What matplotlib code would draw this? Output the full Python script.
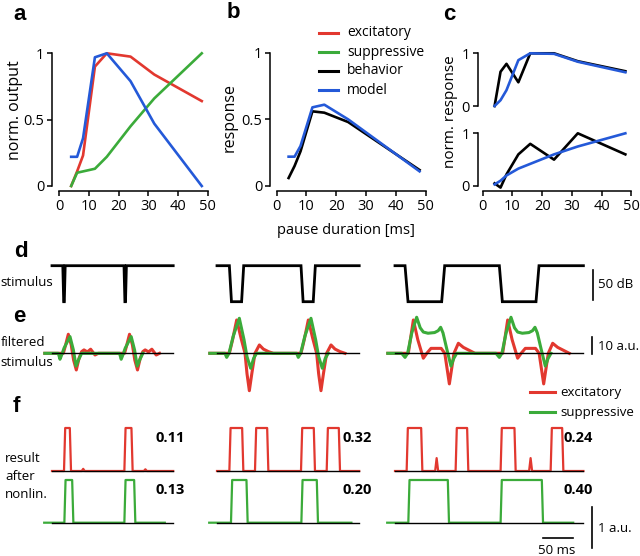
import matplotlib
matplotlib.use("Agg")
import matplotlib.pyplot as plt
from matplotlib.lines import Line2D

plt.rcParams['font.family'] = ['Open Sans', 'DejaVu Sans']

# ---------------- data: panels a-c ----------------
pause_ms = [4, 6, 8, 12, 16, 24, 32, 48]
a_excitatory = [0.0, 0.11, 0.23, 0.90, 1.0, 0.975, 0.84, 0.64]
a_suppressive = [0.0, 0.10, 0.11, 0.13, 0.22, 0.45, 0.66, 1.0]
a_model = [0.22, 0.22, 0.36, 0.97, 1.0, 0.79, 0.47, 0.0]

b_behavior = [0.06, 0.15, 0.26, 0.56, 0.55, 0.48, 0.36, 0.12]
b_model = [0.22, 0.22, 0.30, 0.59, 0.61, 0.50, 0.37, 0.11]

c_top_behavior = [0.0, 0.65, 0.80, 0.45, 1.0, 1.0, 0.85, 0.66]
c_top_model = [0.0, 0.11, 0.30, 0.87, 1.0, 0.99, 0.84, 0.64]
c_bot_behavior = [0.05, -0.03, 0.22, 0.60, 0.80, 0.50, 1.0, 0.60]
c_bot_model = [0.03, 0.10, 0.20, 0.33, 0.42, 0.60, 0.75, 1.0]

# ---------------- data: panels d-f (times in ms, per example column) ----------------
stim_end = [202, 237, 314]
pause_on = [[18, 120], [20.6, 140], [16.7, 173.9]]
pause_dur = [2.5, 20.4, 61.1]
stim_ramp = [1.5, 3.5, 5]
stim_high_db = 60
stim_low_db = 0

# filtered stimulus, first burst (second burst repeats after the next pause)
e_red_t = [
    [18.9, 22, 27.2, 32, 36, 40.5, 45, 49.4, 53.3, 58.9, 64.4, 71.7, 77.2],
    [20.6, 26, 32.8, 40, 46.7, 50, 53.9, 58, 63.3, 70.6, 77.2, 85.6, 93.9],
    [22.2, 30.6, 38, 47.2, 53, 60, 77, 83, 90.6, 98.3, 105.6, 113.9, 122.2, 133.3],
]
e_red_v = [
    [0, 4, 11.2, 5, -4, -9.8, -3, 1, 2, 0.8, 2.4, -1, 0],
    [0, 8, 19.6, 9, 0, -12, -22, -12, 0, 4.9, 2.5, 1, 0],
    [0, 19.6, 8, -2.9, 0, 2.9, 2.9, 0, -18, 0, 5.9, 3.5, 2, 0],
]
e_green_t = [
    [10.6, 13.3, 16.1, 20, 30, 35.6, 40, 44, 49.4],
    [13.3, 16.1, 20, 27, 37.2, 45, 50, 56.1, 61, 66],
    [11.1, 16.7, 21, 28, 36.1, 42, 47.2, 55, 66, 72, 76.1, 80, 86, 93.3, 98, 102.8],
]
e_green_v = [
    [0, -3.5, -1, 3, 9.8, 2, -7.5, -4, 0],
    [0, -2.4, 0, 10, 20.6, 8, -2, -8.8, -3, 0],
    [0, -2.4, 0, 12, 21.2, 15, 12.5, 11.8, 12.2, 13.3, 15.3, 12, 3, -7.5, -3, 0],
]

# result after nonlinearity: pulses (start, end) and small spikes (time, height)
f_red_pulses = [
    [(20, 31.7), (120.6, 134.4)],
    [(20.6, 43.9), (63.3, 85.6), (140, 163.3), (182.8, 205)],
    [(19.4, 45.6), (101, 122.2), (176, 201.1), (259.4, 280.6)],
]
f_red_spikes = [[(52, 0.05), (155.6, 0.04)], [], [(69.4, 0.3), (226, 0.3)]]
f_green_pulses = [
    [(20.6, 35.6), (120.6, 138.9)],
    [(23.3, 51.1), (140.6, 168.3)],
    [(22.2, 90), (176, 246.7)],
]
f_green_end = [188, 224, 297]
f_red_values = ["0.11", "0.32", "0.24"]
f_green_values = ["0.13", "0.20", "0.40"]

RED = '#e2382f'
GREEN = '#3bab3a'
BLUE = '#2459d8'

W, H = 640, 556
fig = plt.figure(figsize=(6.4, 5.56), dpi=100)


def px_axes(x0, y0, x1, y1):
    ax = fig.add_axes([x0 / W, 1 - y1 / H, (x1 - x0) / W, (y1 - y0) / H])
    ax.patch.set_visible(False)
    return ax


def ftext(x, y, s, **kw):
    return fig.text(x / W, 1 - y / H, s, **kw)


def style(ax, yticks, ylabels, xaxis=True, left_px=7, bottom_px=5.5):
    for s in ['top', 'right']:
        ax.spines[s].set_visible(False)
    ax.spines['left'].set_position(('outward', left_px * 0.72))
    ax.spines['left'].set_bounds(yticks[0], yticks[-1])
    ax.spines['left'].set_linewidth(1.1)
    ax.set_yticks(yticks)
    ax.set_yticklabels(ylabels)
    ax.set_xlim(0, 50)
    if xaxis:
        ax.spines['bottom'].set_position(('outward', bottom_px * 0.72))
        ax.spines['bottom'].set_bounds(0, 50)
        ax.spines['bottom'].set_linewidth(1.1)
        ax.set_xticks([0, 10, 20, 30, 40, 50])
    else:
        ax.spines['bottom'].set_visible(False)
        ax.set_xticks([])
    ax.tick_params(length=3.6, width=1.1, labelsize=10.5, pad=2)


LW = 1.9

# panel a
ax_a = px_axes(59.3, 53.3, 207.7, 186)
ax_a.plot(pause_ms, a_excitatory, color=RED, lw=LW, clip_on=False)
ax_a.plot(pause_ms, a_suppressive, color=GREEN, lw=LW, clip_on=False)
ax_a.plot(pause_ms, a_model, color=BLUE, lw=LW, clip_on=False)
ax_a.set_ylim(0, 1)
style(ax_a, [0, 0.5, 1], ['0', '0.5', '1'])

# panel b
ax_b = px_axes(276.7, 52.7, 425.5, 186)
ax_b.plot(pause_ms, b_behavior, color='black', lw=LW, clip_on=False)
ax_b.plot(pause_ms, b_model, color=BLUE, lw=LW, clip_on=False)
ax_b.set_ylim(0, 1)
style(ax_b, [0, 0.5, 1], ['0', '0.5', '1'], left_px=6.7)

# panel c
ax_c1 = px_axes(482.7, 53.3, 631.3, 106)
ax_c1.plot(pause_ms, c_top_behavior, color='black', lw=LW, clip_on=False)
ax_c1.plot(pause_ms, c_top_model, color=BLUE, lw=LW, clip_on=False)
ax_c1.set_ylim(0, 1)
style(ax_c1, [0, 1], ['0', '1'], xaxis=False, left_px=5)

ax_c2 = px_axes(482.7, 133.3, 631.3, 186)
ax_c2.plot(pause_ms, c_bot_behavior, color='black', lw=LW, clip_on=False)
ax_c2.plot(pause_ms, c_bot_model, color=BLUE, lw=LW, clip_on=False)
ax_c2.set_ylim(0, 1)
style(ax_c2, [0, 1], ['0', '1'], left_px=5)

ftext(15, 110, "norm. output", rotation=90, ha='center', va='center', fontsize=11.5)
ftext(230, 118, "response", rotation=90, ha='center', va='center', fontsize=11.5)
ftext(450, 112, "norm. response", rotation=90, ha='center', va='center', fontsize=11)
ftext(346, 230, "pause duration [ms]", ha='center', va='center', fontsize=10.5)

# legend of panel b
for i, (lab, col) in enumerate([("excitatory", RED), ("suppressive", GREEN),
                                 ("behavior", 'black'), ("model", BLUE)]):
    y = 33 + 19 * i
    fig.add_artist(Line2D([319 / W, 338 / W], [1 - y / H, 1 - y / H], color=col, lw=2.2))
    ftext(347, y, lab, ha='left', va='center', fontsize=10)

# ---------------- panels d-f ----------------
col_x0 = [52, 217, 395]
PX_PER_MS = 0.6
T0, T1 = -20, 345


def col_axes(c, y_top, y_bot, ylim):
    ax = px_axes(col_x0[c] + T0 * PX_PER_MS, y_top, col_x0[c] + T1 * PX_PER_MS, y_bot)
    ax.set_xlim(T0, T1)
    ax.set_ylim(*ylim)
    ax.axis('off')
    return ax


def burst_trace(c, bt, bv, start):
    period = pause_on[c][1] - pause_on[c][0]
    t = [start] + bt + [x + period for x in bt]
    v = [0] + bv + bv
    return t, v


def pulse_trace(pulses, spikes, start, end, ramp=2.0):
    pts = [(start, 0), (end, 0)]
    for a, b in pulses:
        pts += [(a, 0), (a + ramp, 1), (b - ramp, 1), (b, 0)]
    for s, h in spikes:
        pts += [(s - 2.5, 0), (s, h), (s + 2.5, 0)]
    pts.sort()
    return [p[0] for p in pts], [p[1] for p in pts]


for c in range(3):
    # d: stimulus
    ax = col_axes(c, 265.7, 301.7, (stim_low_db, stim_high_db))
    t = [0]
    y = [stim_high_db]
    r = stim_ramp[c]
    for on in pause_on[c]:
        t += [on, on + r, on + pause_dur[c], on + pause_dur[c] + r]
        y += [stim_high_db, stim_low_db, stim_low_db, stim_high_db]
    t.append(stim_end[c])
    y.append(stim_high_db)
    ax.plot(t, y, color='black', lw=2.0, clip_on=False, solid_joinstyle='miter')
    if c == 2:
        ax.plot([330, 330], [2.8, 52.8], color='black', lw=1.2, clip_on=False)

    # e: filtered stimulus
    ax = col_axes(c, 310.8, 395.8, (-25, 25))
    tr, vr = burst_trace(c, e_red_t[c], e_red_v[c], -12)
    tg, vg = burst_trace(c, e_green_t[c], e_green_v[c], -12)
    ax.plot(tr, vr, color=RED, lw=2.2, clip_on=False)
    ax.plot(tg, vg, color=GREEN, lw=2.2, clip_on=False)
    ax.plot([0, stim_end[c]], [0, 0], color='black', lw=1.0, clip_on=False)
    if c == 2:
        ax.plot([327.8, 327.8], [-0.4, 9.6], color='black', lw=1.2, clip_on=False)

    # f: result after nonlinearity
    ax = col_axes(c, 428, 471, (0, 1))
    t, v = pulse_trace(f_red_pulses[c], f_red_spikes[c], 0, stim_end[c])
    ax.plot(t, v, color=RED, lw=1.6, clip_on=False)
    ax.plot([0, stim_end[c]], [0, 0], color='black', lw=1.0, clip_on=False)

    ax = col_axes(c, 480, 522.7, (0, 1))
    t, v = pulse_trace(f_green_pulses[c], [], -13, f_green_end[c])
    ax.plot(t, v, color=GREEN, lw=1.6, clip_on=False)
    ax.plot([0, stim_end[c]], [0, 0], color='black', lw=1.0, clip_on=False)
    if c == 2:
        ax.plot([327.8, 327.8], [-0.6, 0.375], color='black', lw=1.2, clip_on=False)
        ax.plot([246.7, 296.7], [-0.365, -0.365], color='black', lw=1.2, clip_on=False)

value_x = [170, 357, 578]
for c in range(3):
    ftext(value_x[c], 437.5, f_red_values[c], ha='center', va='center',
          fontsize=10.5, fontweight='bold')
    ftext(value_x[c], 490, f_green_values[c], ha='center', va='center',
          fontsize=10.5, fontweight='bold')

# scale bar labels
ftext(598, 285, "50 dB", ha='left', va='center', fontsize=9.5)
ftext(598, 346, "10 a.u.", ha='left', va='center', fontsize=9.5)
ftext(598, 528, "1 a.u.", ha='left', va='center', fontsize=9.5)
ftext(557, 550, "50 ms", ha='center', va='center', fontsize=9.5)

# legend of panels e/f
for y, lab, col in [(392.3, "excitatory", RED), (412.3, "suppressive", GREEN)]:
    fig.add_artist(Line2D([530 / W, 555 / W], [1 - y / H, 1 - y / H], color=col, lw=2.2))
    ftext(560, y, lab, ha='left', va='center', fontsize=9.5)

# row labels
ftext(0.5, 282, "stimulus", ha='left', va='center', fontsize=9.5)
ftext(0.5, 343, "filtered", ha='left', va='center', fontsize=9.5)
ftext(0.5, 362, "stimulus", ha='left', va='center', fontsize=9.5)
ftext(5, 458, "result", ha='left', va='center', fontsize=9.5)
ftext(5, 477, "after", ha='left', va='center', fontsize=9.5)
ftext(5, 495, "nonlin.", ha='left', va='center', fontsize=9.5)

# panel letters
for lab, x, y in [("a", 13, 20), ("b", 227, 18), ("c", 443, 20),
                  ("d", 14, 257), ("e", 13, 322), ("f", 13, 412)]:
    ftext(x, y, lab, ha='left', va='baseline', fontsize=16, fontweight='bold',
          family=['Liberation Sans', 'DejaVu Sans'])

fig.savefig("out.png", dpi=100)
